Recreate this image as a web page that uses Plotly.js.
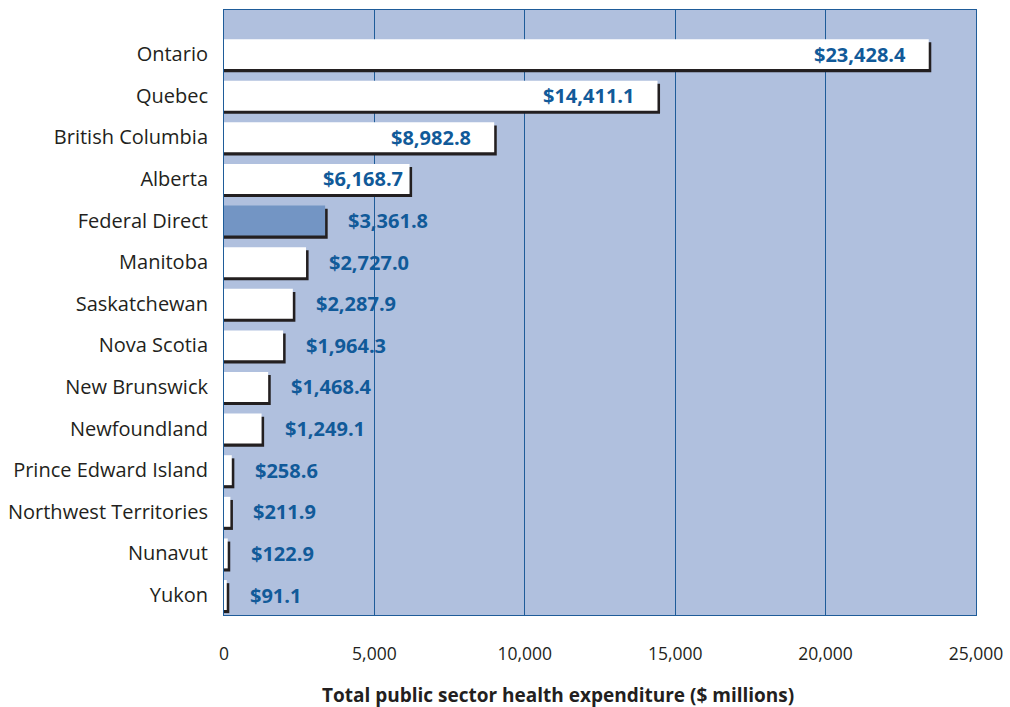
<!DOCTYPE html>
<html>
<head>
<meta charset="utf-8">
<script src="https://cdn.plot.ly/plotly-3.0.1.min.js"></script>
<style>html,body{margin:0;padding:0;background:#fff;}#chart{width:1010px;height:707px;}</style>
</head>
<body>
<div id="chart"></div>
<script>
const provinces = ["Ontario","Quebec","British Columbia","Alberta","Federal Direct","Manitoba","Saskatchewan","Nova Scotia","New Brunswick","Newfoundland","Prince Edward Island","Northwest Territories","Nunavut","Yukon"];
const expenditure = [23428.4,14411.1,8982.8,6168.7,3361.8,2727.0,2287.9,1964.3,1468.4,1249.1,258.6,211.9,122.9,91.1];
const xTickValues = [0,5000,10000,15000,20000,25000];
const xTickLabels = ["0","5,000","10,000","15,000","20,000","25,000"];
const xTitle = "Total public sector health expenditure ($ millions)";

const shadowShift = 85; // data units ~ 2.5px
const barColors = provinces.map(p => p === "Federal Direct" ? "#7395c4" : "#ffffff");
const fmt = v => "$" + v.toLocaleString("en-US", {minimumFractionDigits:1, maximumFractionDigits:1});

const shadow = {
  type: "bar", orientation: "h",
  y: provinces, x: expenditure.map(v => v + shadowShift),
  width: 0.72, offset: -0.36 + 0.075,
  marker: {color: "#231f20", line: {width: 0}},
  hoverinfo: "skip", showlegend: false
};
const bars = {
  type: "bar", orientation: "h",
  y: provinces, x: expenditure,
  width: 0.72, offset: -0.36,
  marker: {color: barColors, line: {width: 0}},
  showlegend: false
};

const annotations = provinces.map((p, i) => {
  const v = expenditure[i];
  const inside = v > 5000;
  return {
    x: v, y: p, xref: "x", yref: "y",
    text: fmt(v), showarrow: false,
    xanchor: inside ? "right" : "left",
    xshift: inside ? (p === "Alberta" ? -5 : -21) : 21,
    font: {family: "Open Sans", size: 20, color: "#115a99", weight: 700}
  };
});
annotations.push({
  xref: "paper", yref: "paper", x: 0.4448, y: -0.132,
  xanchor: "center", yanchor: "middle", showarrow: false,
  text: xTitle,
  font: {family: "Open Sans", size: 19, color: "#231f20", weight: 700}
});

const layout = {
  width: 1010, height: 707,
  margin: {l: 224, r: 34, t: 10, b: 92},
  paper_bgcolor: "#ffffff",
  plot_bgcolor: "#b0c0de",
  barmode: "overlay",
  showlegend: false,
  xaxis: {
    range: [0, 25000], tickvals: xTickValues, ticktext: xTickLabels,
    showgrid: true, gridcolor: "#1f5c99", gridwidth: 1,
    zeroline: false,
    showline: true, linecolor: "#1f5c99", linewidth: 1, mirror: true,
    ticks: "outside", ticklen: 23, tickcolor: "rgba(0,0,0,0)",
    tickfont: {family: "Open Sans", size: 17.5, color: "#231f20"},
    fixedrange: true
  },
  yaxis: {
    type: "category", categoryorder: "array", categoryarray: provinces,
    range: [13.48, -1.06],
    showgrid: false, zeroline: false,
    showline: true, linecolor: "#1f5c99", linewidth: 1, mirror: true,
    ticks: "outside", ticklen: 11, tickcolor: "rgba(0,0,0,0)",
    tickfont: {family: "Open Sans", size: 20, color: "#231f20"},
    fixedrange: true
  },
  annotations: annotations
};

Plotly.newPlot("chart", [shadow, bars], layout, {displayModeBar: false, staticPlot: true});
</script>
</body>
</html>
